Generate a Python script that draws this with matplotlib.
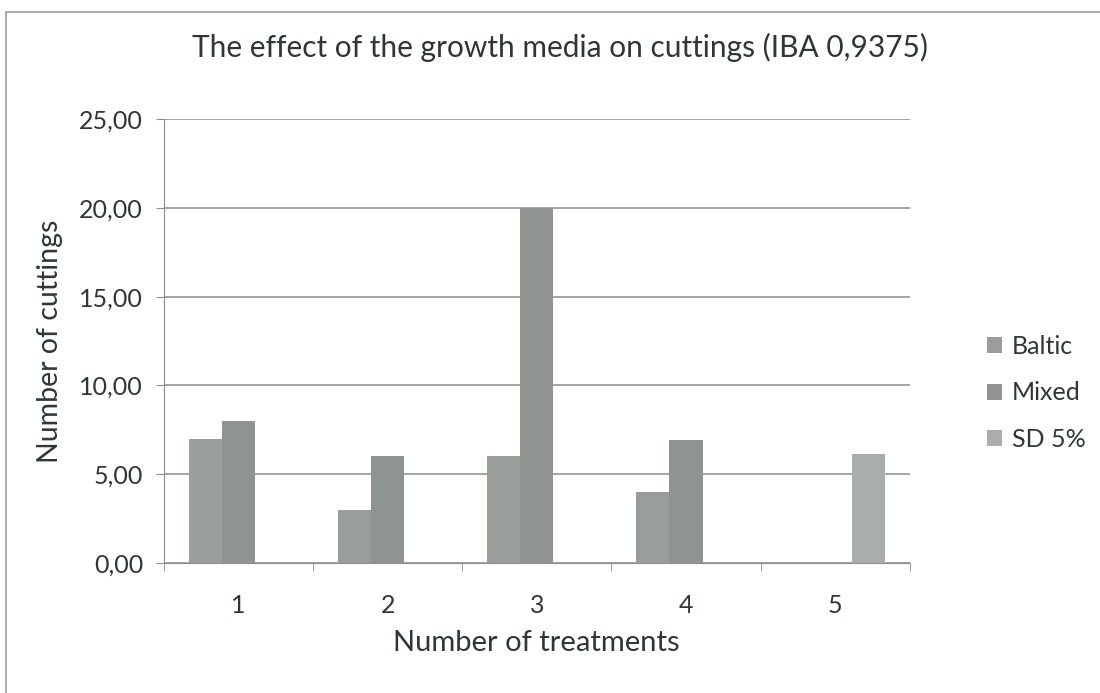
import matplotlib
matplotlib.use("Agg")
import matplotlib.pyplot as plt
import numpy as np
from matplotlib.patches import Rectangle

treatments = ["1", "2", "3", "4", "5"]
baltic = [7, 3, 6, 4, 0]
mixed = [8, 6, 20, 6.9, 0]
sd5 = [0, 0, 0, 0, 6.15]
series_names = ["Baltic", "Mixed", "SD 5%"]
yticks = [0, 5, 10, 15, 20, 25]

txt = "#2c3830"
plt.rcParams["font.family"] = ["Lato", "DejaVu Sans"]

fig = plt.figure(figsize=(11, 6.93), dpi=100)
ax = fig.add_axes([0.149, 0.1876, 0.678, 0.6407])

x = np.arange(len(treatments))
w = 1 / 4.5
cols = ["#9a9e9b", "#909491", "#aaaeab"]
for i, (vals, name) in enumerate(zip([baltic, mixed, sd5], series_names)):
    ax.bar(x + (i - 1) * w, vals, width=w, color=cols[i], label=name, zorder=3)

ax.set_xlim(-0.5, 4.5)
ax.set_ylim(0, 25)
ax.set_yticks(yticks)
ax.set_yticklabels([f"{v:.2f}".replace(".", ",") for v in yticks])
ax.yaxis.grid(True, color="#8c8c8c", lw=1.1, zorder=0)
ax.set_xticks(x)
ax.set_xticklabels(treatments)
ax.set_xticks(np.arange(-0.5, 5, 1), minor=True)
ax.tick_params(axis="x", which="major", length=0, pad=22, labelsize=18, labelcolor=txt)
ax.tick_params(axis="x", which="minor", length=6, color="#8c8c8c")
ax.tick_params(axis="y", length=6, color="#8c8c8c", labelsize=18, labelcolor=txt, pad=9)
for s in ["top", "right"]:
    ax.spines[s].set_visible(False)
ax.spines["left"].set_color("#8c8c8c")
ax.spines["bottom"].set_color("#8c8c8c")

fig.text(0.509, 0.932, "The effect of the growth media on cuttings (IBA 0,9375)",
         ha="center", va="center", fontsize=21.5, color=txt)
ax.set_xlabel("Number of treatments", fontsize=21, color=txt, labelpad=10)
ax.set_ylabel("Number of cuttings", fontsize=20.5, color=txt, labelpad=12)

fig.legend(loc="center left", bbox_to_anchor=(0.877, 0.433), frameon=False,
           fontsize=18, labelcolor=txt, handlelength=0.6, handleheight=0.6,
           handletextpad=0.4, labelspacing=0.95)

fig.patches.append(Rectangle((0.005, -0.01), 1.0, 0.993, transform=fig.transFigure,
                             fill=False, edgecolor="#a0a0a0", lw=1.2))

fig.savefig("out.png", dpi=100)
